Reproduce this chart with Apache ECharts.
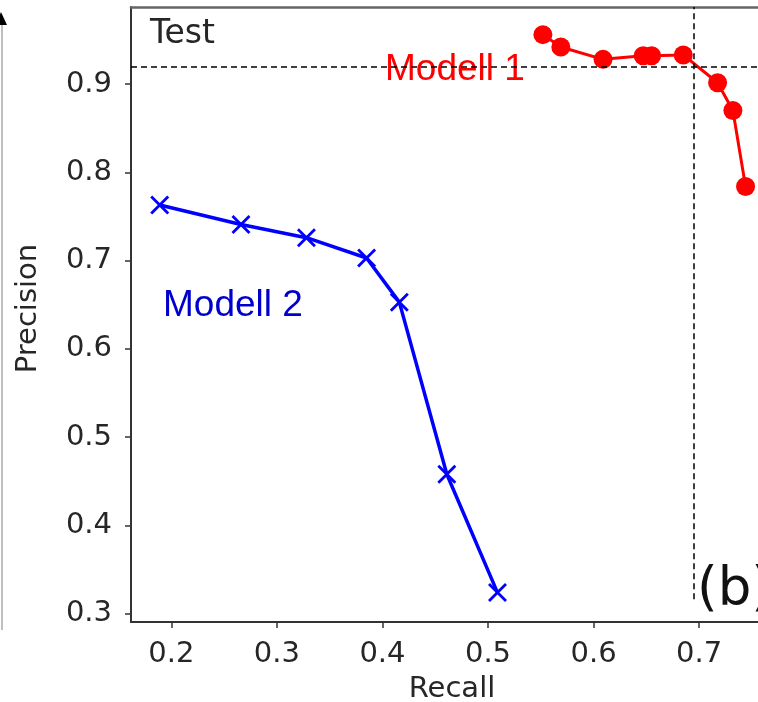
<!DOCTYPE html>
<html>
<head>
<meta charset="utf-8">
<script src="https://cdn.jsdelivr.net/npm/echarts@6/dist/echarts.min.js"></script>
<style>
html,body{margin:0;padding:0;background:#fff;}
#chart{width:758px;height:702px;}
</style>
</head>
<body>
<div id="chart"></div>
<script>
// ---- data ----
const recall1 = [0.552, 0.569, 0.609, 0.647, 0.655, 0.685, 0.7175, 0.732, 0.744];
const precision1 = [0.956, 0.942, 0.928, 0.932, 0.932, 0.933, 0.9015, 0.870, 0.784];
const recall2 = [0.189, 0.266, 0.328, 0.385, 0.416, 0.461, 0.509];
const precision2 = [0.763, 0.741, 0.726, 0.703, 0.653, 0.458, 0.324];
const xTicks = [0.2, 0.3, 0.4, 0.5, 0.6, 0.7];
const yTicks = [0.3, 0.4, 0.5, 0.6, 0.7, 0.8, 0.9];
const xRange = [0.1618, 0.770];
const yRange = [0.2907, 0.9873];
const hLineY = 0.917;
const vLineX = 0.695;
const vLineBottom = 0.3164;
const labels = { test: 'Test', m1: 'Modell 1', m2: 'Modell 2', panel: '(b)', xName: 'Recall', yName: 'Precision' };

const pts1 = recall1.map((r, i) => [r, precision1[i]]);
const pts2 = recall2.map((r, i) => [r, precision2[i]]);

const chart = echarts.init(document.getElementById('chart'), null, { renderer: 'canvas' });
const tickFont = { fontFamily: 'DejaVu Sans', fontSize: 29, color: '#262626' };

chart.setOption({
  animation: false,
  backgroundColor: '#fff',
  grid: { left: 131, top: 7, right: -15, bottom: 80, containLabel: false, outerBoundsMode: 'none' },
  xAxis: [{
    type: 'value', min: xRange[0], max: xRange[1], position: 'bottom',
    name: labels.xName, nameLocation: 'middle', nameGap: 53,
    nameTextStyle: { fontFamily: 'DejaVu Sans', fontSize: 29, color: '#262626' },
    axisLine: { show: true, lineStyle: { color: '#333', width: 2 } },
    axisTick: { show: true, inside: false, length: 6, customValues: xTicks, lineStyle: { color: '#333', width: 1.5 } },
    axisLabel: Object.assign({ margin: 18, customValues: xTicks, formatter: v => v.toFixed(1) }, tickFont),
    splitLine: { show: false }
  }, {
    type: 'value', min: xRange[0], max: xRange[1], position: 'top',
    axisLine: { show: true, lineStyle: { color: '#666', width: 2.5 } },
    axisTick: { show: false }, axisLabel: { show: false }, splitLine: { show: false }
  }],
  yAxis: {
    type: 'value', min: yRange[0], max: yRange[1],
    name: labels.yName, nameLocation: 'middle', nameGap: 88, nameRotate: 90,
    nameTextStyle: { fontFamily: 'DejaVu Sans', fontSize: 29, color: '#262626', padding: [0, 0, 0, 12] },
    axisLine: { show: true, lineStyle: { color: '#333', width: 2 } },
    axisTick: { show: true, inside: false, length: 6, customValues: yTicks, lineStyle: { color: '#333', width: 1.5 } },
    axisLabel: Object.assign({ margin: 19, customValues: yTicks, formatter: v => v.toFixed(1) }, tickFont),
    splitLine: { show: false }
  },
  graphic: [
    { type: 'line', z: 1, shape: { x1: 2, y1: 22, x2: 2, y2: 630 }, style: { stroke: '#aaa', lineWidth: 1.5 } },
    { type: 'polygon', z: 1, shape: { points: [[-5, 25], [1, 12], [7, 25]] }, style: { fill: '#000' } },
    { type: 'text', z: 1, x: 150, y: 34, style: { text: labels.test, font: '33px "DejaVu Sans"', fill: '#262626', verticalAlign: 'middle' } },
    { type: 'text', z: 1, x: 385, y: 70, style: { text: labels.m1, font: '37px "Liberation Sans"', fill: '#ff0000', verticalAlign: 'middle' } },
    { type: 'text', z: 1, x: 163, y: 306, style: { text: labels.m2, font: '37px "Liberation Sans"', fill: '#0000cd', verticalAlign: 'middle' } },
    { type: 'text', z: 1, x: 697, y: 591, style: { text: labels.panel, font: '53px "DejaVu Sans"', fill: '#111', verticalAlign: 'middle' } }
  ],
  series: [{
    type: 'line', name: labels.m1, data: pts1,
    symbol: 'circle', symbolSize: 19,
    lineStyle: { color: '#ff0000', width: 3 },
    itemStyle: { color: '#ff0000', borderWidth: 0 },
    z: 3
  }, {
    type: 'line', name: labels.m2, data: pts2,
    symbol: 'path://M0,0L10,10M10,0L0,10', symbolSize: 17,
    lineStyle: { color: '#0000ff', width: 3.5 },
    itemStyle: { color: 'none', borderColor: '#0000ff', borderWidth: 2.8 },
    z: 3,
    markLine: {
      silent: true, symbol: ['none', 'none'], label: { show: false },
      lineStyle: { color: '#000', type: [6, 4], width: 1.5 },
      data: [
        { yAxis: hLineY },
        [{ coord: [vLineX, vLineBottom] }, { coord: [vLineX, yRange[1]] }]
      ]
    }
  }]
});
</script>
</body>
</html>
